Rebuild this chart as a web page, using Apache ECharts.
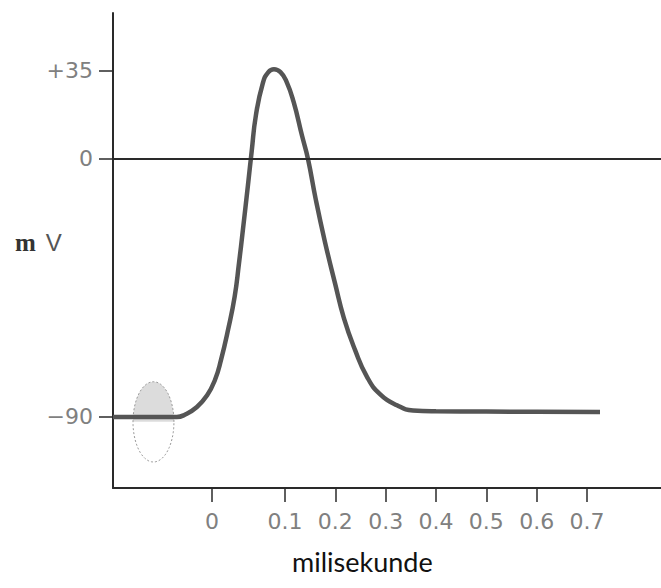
<!DOCTYPE html>
<html>
<head>
<meta charset="utf-8">
<script src="https://cdn.jsdelivr.net/npm/echarts@6/dist/echarts.min.js"></script>
<style>
html,body{margin:0;padding:0;background:#fff;}
#chart{width:661px;height:588px;}
</style>
</head>
<body>
<div id="chart"></div>
<script>
// Curve: time (ms) and membrane potential (mV)
const timeMs = [-0.2417, -0.160, -0.115, -0.100, -0.075, -0.055, -0.039, -0.027, -0.013, 0.000, 0.0085, 0.0165, 0.0265, 0.0340, 0.0420, 0.0560, 0.0670, 0.0781, 0.0910, 0.1030, 0.1170, 0.1340, 0.1457, 0.1610, 0.1795, 0.1993, 0.2170, 0.2391, 0.2629, 0.2887, 0.3225, 0.3543, 0.4000, 0.5000, 0.6000, 0.7258];
const potentialMv = [-90, -90, -90, -89.3, -86.5, -82.5, -77.0, -70.0, -59.5, -48.0, -36.5, -24.5, -9.0, 3.0, 15.0, 26.5, 30.3, 31.3, 30.3, 27.0, 20.0, 8.0, 0, -14.0, -29.0, -43.3, -55.5, -66.6, -76.0, -82.0, -85.9, -87.7, -88.0, -88.1, -88.2, -88.3];

// Tick positions (in axis units, where the picture draws them) and their labels
const xTickValues = [-0.045, 0.1, 0.2, 0.3, 0.4, 0.5, 0.6, 0.7];
const xTickLabels = ['0', '0.1', '0.2', '0.3', '0.4', '0.5', '0.6', '0.7'];
const yTickValues = [-90, 0, 30.7];
const yTickLabels = ['\u221290', '0', '+35'];

// Highlight ellipse: centre (ms, mV) and radii (ms, mV)
const ellipse = [[-0.1613, -91.7, 0.0407, 14.0]];

const xTitle = 'milisekunde';
const yTitleBold = 'm';
const yTitleRest = 'V';

function pick(values, labels, v) {
  for (let i = 0; i < values.length; i++) {
    if (Math.abs(values[i] - v) < 1e-6) return labels[i];
  }
  return '';
}

const chart = echarts.init(document.getElementById('chart'), null, {renderer: 'svg'});
chart.setOption({
  animation: false,
  backgroundColor: '#fff',
  grid: {left: 113, right: 0, top: 13, bottom: 100, containLabel: false},
  xAxis: {
    type: 'value',
    min: -0.2417,
    max: 0.847,
    splitLine: {show: false},
    axisLine: {show: true, onZero: false, lineStyle: {color: '#2a2a2a', width: 2}},
    axisTick: {show: true, inside: false, length: 14, customValues: xTickValues, lineStyle: {color: '#2a2a2a', width: 1.5}},
    axisLabel: {
      customValues: xTickValues,
      margin: 22,
      color: '#808080',
      fontFamily: 'DejaVu Sans',
      fontSize: 22,
      formatter: v => pick(xTickValues, xTickLabels, v)
    }
  },
  yAxis: {
    type: 'value',
    min: -114.77,
    max: 50.93,
    splitLine: {show: false},
    axisLine: {show: true, onZero: false, lineStyle: {color: '#2a2a2a', width: 2}},
    axisTick: {show: true, inside: false, length: 14, customValues: yTickValues, lineStyle: {color: '#2a2a2a', width: 1.5}},
    axisLabel: {
      customValues: yTickValues,
      margin: 20,
      color: '#808080',
      fontFamily: 'DejaVu Sans',
      fontSize: 22,
      formatter: v => pick(yTickValues, yTickLabels, v)
    }
  },
  graphic: [
    {
      type: 'text',
      left: 292, top: 548,
      style: {text: xTitle, fill: '#111', font: '27px Lato', textAlign: 'left'}
    },
    {
      type: 'text',
      left: 15, top: 230,
      style: {
        text: '{b|' + yTitleBold + '}{s| }{r|' + yTitleRest + '}',
        rich: {
          b: {fontFamily: 'Liberation Serif', fontWeight: 'bold', fontSize: 25, fill: '#333', color: '#333'},
          s: {fontSize: 22, width: 10},
          r: {fontFamily: 'Liberation Sans', fontSize: 24, fill: '#555', color: '#555'}
        }
      }
    }
  ],
  series: [
    {
      type: 'custom',
      z: 1,
      data: ellipse,
      renderItem: function (params, api) {
        const c = api.coord([api.value(0), api.value(1)]);
        const s = api.size([api.value(2), api.value(3)]);
        const rx = s[0], ry = s[1];
        const full = [], top = [];
        for (let i = 0; i <= 72; i++) {
          const t = 2 * Math.PI * i / 72;
          full.push([c[0] + rx * Math.cos(t), c[1] - ry * Math.sin(t)]);
        }
        for (let i = 0; i <= 36; i++) {
          const t = Math.PI * i / 36;
          top.push([c[0] + rx * Math.cos(t), c[1] - ry * Math.sin(t)]);
        }
        return {
          type: 'group',
          children: [
            {type: 'polygon', shape: {points: top}, style: {fill: '#dcdcdc', stroke: null}},
            {type: 'polygon', shape: {points: full}, style: {fill: 'none', stroke: '#999', lineWidth: 1, lineDash: [2, 2]}}
          ]
        };
      }
    },
    {
      type: 'line',
      z: 3,
      data: timeMs.map((t, i) => [t, potentialMv[i]]),
      smooth: 0.5,
      showSymbol: false,
      symbol: 'none',
      lineStyle: {color: '#555', width: 4.5},
      markLine: {
        silent: true,
        symbol: ['none', 'none'],
        label: {show: false},
        lineStyle: {color: '#2a2a2a', width: 1.8, type: 'solid'},
        data: [{yAxis: 0}]
      }
    }
  ]
});
</script>
</body>
</html>
